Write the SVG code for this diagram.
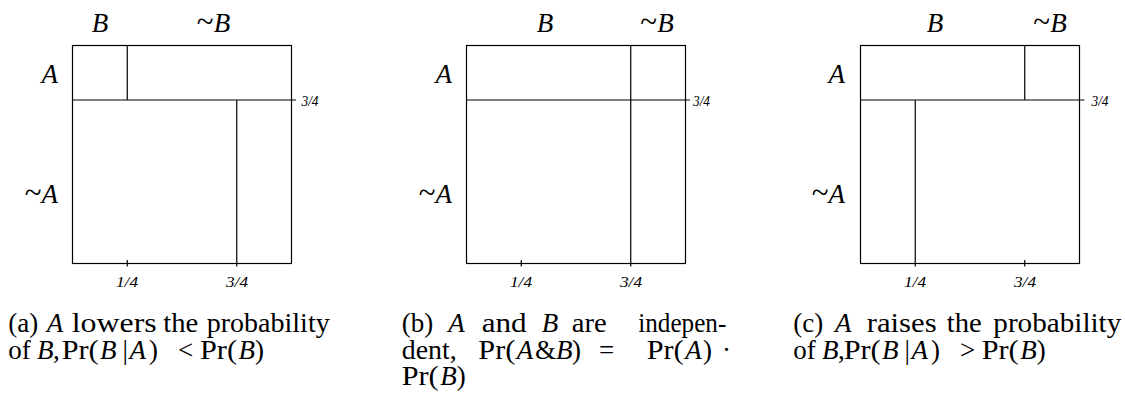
<svg xmlns="http://www.w3.org/2000/svg" width="1125" height="406" viewBox="0 0 1125 406">
<style>
.ln{stroke:#000;stroke-width:1.2;fill:none}
.big{font-family:"Liberation Serif","Times New Roman",serif;font-size:27px;font-style:italic;fill:#000}
.tl{font-style:normal;font-size:31px}
.sm{font-family:"Liberation Serif","Times New Roman",serif;font-size:15px;font-style:italic;fill:#000}
.cap{font-family:"Liberation Serif","Times New Roman",serif;font-size:27px;fill:#000}
.i{font-style:italic}
</style>
<rect width="1125" height="406" fill="#fff"/>

<g id="panel-a">
<rect class="ln" x="72.5" y="45.5" width="219" height="218"/>
<path class="ln" d="M72.5 100H296M127.25 45.5V100M236.75 100V266.5M127.25 260V266.5"/>
<text class="big" x="100" y="31.5" text-anchor="middle">B</text>
<text class="big" x="213.5" y="31.5" text-anchor="middle"><tspan class="tl">~</tspan>B</text>
<text class="big" x="58" y="83" text-anchor="end">A</text>
<text class="big" x="58" y="203" text-anchor="end"><tspan class="tl">~</tspan>A</text>
<text class="sm" x="301.5" y="105.5" textLength="17" lengthAdjust="spacingAndGlyphs">3/4</text>
<text class="sm" x="127" y="287" text-anchor="middle" textLength="22" lengthAdjust="spacingAndGlyphs">1/4</text>
<text class="sm" x="237" y="287" text-anchor="middle" textLength="22" lengthAdjust="spacingAndGlyphs">3/4</text>
</g>

<g id="panel-b">
<rect class="ln" x="466.5" y="45.5" width="219" height="218"/>
<path class="ln" d="M466.5 100H690M630.75 45.5V266.5M521.25 260V266.5"/>
<text class="big" x="545" y="31.5" text-anchor="middle">B</text>
<text class="big" x="657" y="31.5" text-anchor="middle"><tspan class="tl">~</tspan>B</text>
<text class="big" x="452" y="83" text-anchor="end">A</text>
<text class="big" x="452" y="203" text-anchor="end"><tspan class="tl">~</tspan>A</text>
<text class="sm" x="693" y="105.5" textLength="17" lengthAdjust="spacingAndGlyphs">3/4</text>
<text class="sm" x="521" y="287" text-anchor="middle" textLength="22" lengthAdjust="spacingAndGlyphs">1/4</text>
<text class="sm" x="631" y="287" text-anchor="middle" textLength="22" lengthAdjust="spacingAndGlyphs">3/4</text>
</g>

<g id="panel-c">
<rect class="ln" x="860.5" y="45.5" width="219" height="218"/>
<path class="ln" d="M860.5 100H1084.5M1024.75 45.5V100M915.25 100V266.5M1024.75 260V266.5"/>
<text class="big" x="935" y="31.5" text-anchor="middle">B</text>
<text class="big" x="1050" y="31.5" text-anchor="middle"><tspan class="tl">~</tspan>B</text>
<text class="big" x="845" y="83" text-anchor="end">A</text>
<text class="big" x="845" y="203" text-anchor="end"><tspan class="tl">~</tspan>A</text>
<text class="sm" x="1091.5" y="105.5" textLength="17" lengthAdjust="spacingAndGlyphs">3/4</text>
<text class="sm" x="915" y="287" text-anchor="middle" textLength="22" lengthAdjust="spacingAndGlyphs">1/4</text>
<text class="sm" x="1025" y="287" text-anchor="middle" textLength="22" lengthAdjust="spacingAndGlyphs">3/4</text>
</g>

<g id="caption-a" class="cap">
<text x="8.3" y="332">(a)</text>
<text x="46.7" y="332" class="i">A</text>
<text x="71.7" y="332" textLength="85" lengthAdjust="spacingAndGlyphs">lowers</text>
<text x="163.3" y="332" textLength="35" lengthAdjust="spacingAndGlyphs">the</text>
<text x="206.7" y="332" textLength="123" lengthAdjust="spacingAndGlyphs">probability</text>
<text x="8.3" y="358.5">of</text>
<text x="37" y="358.5" class="i">B</text>
<text x="53" y="358.5">,</text>
<text x="61.7" y="358.5" textLength="37" lengthAdjust="spacingAndGlyphs">Pr(</text>
<text x="100" y="358.5" class="i">B</text>
<text x="122.5" y="358.5">|</text>
<text x="129.5" y="358.5" class="i">A</text>
<text x="149" y="358.5">)</text>
<text x="178" y="358.5">&lt;</text>
<text x="200" y="358.5" textLength="37" lengthAdjust="spacingAndGlyphs">Pr(</text>
<text x="238.5" y="358.5" class="i">B</text>
<text x="255" y="358.5">)</text>
</g>

<g id="caption-b" class="cap">
<text x="401.7" y="332">(b)</text>
<text x="448.3" y="332" class="i">A</text>
<text x="481.7" y="332" textLength="45" lengthAdjust="spacingAndGlyphs">and</text>
<text x="541.7" y="332" class="i">B</text>
<text x="571.7" y="332" textLength="35" lengthAdjust="spacingAndGlyphs">are</text>
<text x="638.3" y="332" textLength="88" lengthAdjust="spacingAndGlyphs">indepen-</text>
<text x="401.7" y="358.5" textLength="55" lengthAdjust="spacingAndGlyphs">dent,</text>
<text x="478.3" y="358.5" textLength="37" lengthAdjust="spacingAndGlyphs">Pr(</text>
<text x="516.8" y="358.5" class="i">A</text>
<text x="535" y="358.5">&amp;</text>
<text x="556" y="358.5" class="i">B</text>
<text x="572" y="358.5">)</text>
<text x="599" y="358.5">=</text>
<text x="646.7" y="358.5" textLength="37" lengthAdjust="spacingAndGlyphs">Pr(</text>
<text x="685.2" y="358.5" class="i">A</text>
<text x="703" y="358.5">)</text>
<text x="722" y="358.5">·</text>
<text x="401.7" y="385" textLength="37" lengthAdjust="spacingAndGlyphs">Pr(</text>
<text x="440.2" y="385" class="i">B</text>
<text x="456.7" y="385">)</text>
</g>

<g id="caption-c" class="cap">
<text x="793.3" y="332">(c)</text>
<text x="835" y="332" class="i">A</text>
<text x="866.7" y="332" textLength="70" lengthAdjust="spacingAndGlyphs">raises</text>
<text x="946.7" y="332" textLength="35" lengthAdjust="spacingAndGlyphs">the</text>
<text x="993.3" y="332" textLength="128" lengthAdjust="spacingAndGlyphs">probability</text>
<text x="793.3" y="358.5">of</text>
<text x="822" y="358.5" class="i">B</text>
<text x="838" y="358.5">,</text>
<text x="843.7" y="358.5" textLength="37" lengthAdjust="spacingAndGlyphs">Pr(</text>
<text x="882" y="358.5" class="i">B</text>
<text x="904.5" y="358.5">|</text>
<text x="911.5" y="358.5" class="i">A</text>
<text x="931" y="358.5">)</text>
<text x="960" y="358.5">&gt;</text>
<text x="981.7" y="358.5" textLength="37" lengthAdjust="spacingAndGlyphs">Pr(</text>
<text x="1020.2" y="358.5" class="i">B</text>
<text x="1036.7" y="358.5">)</text>
</g>
</svg>
